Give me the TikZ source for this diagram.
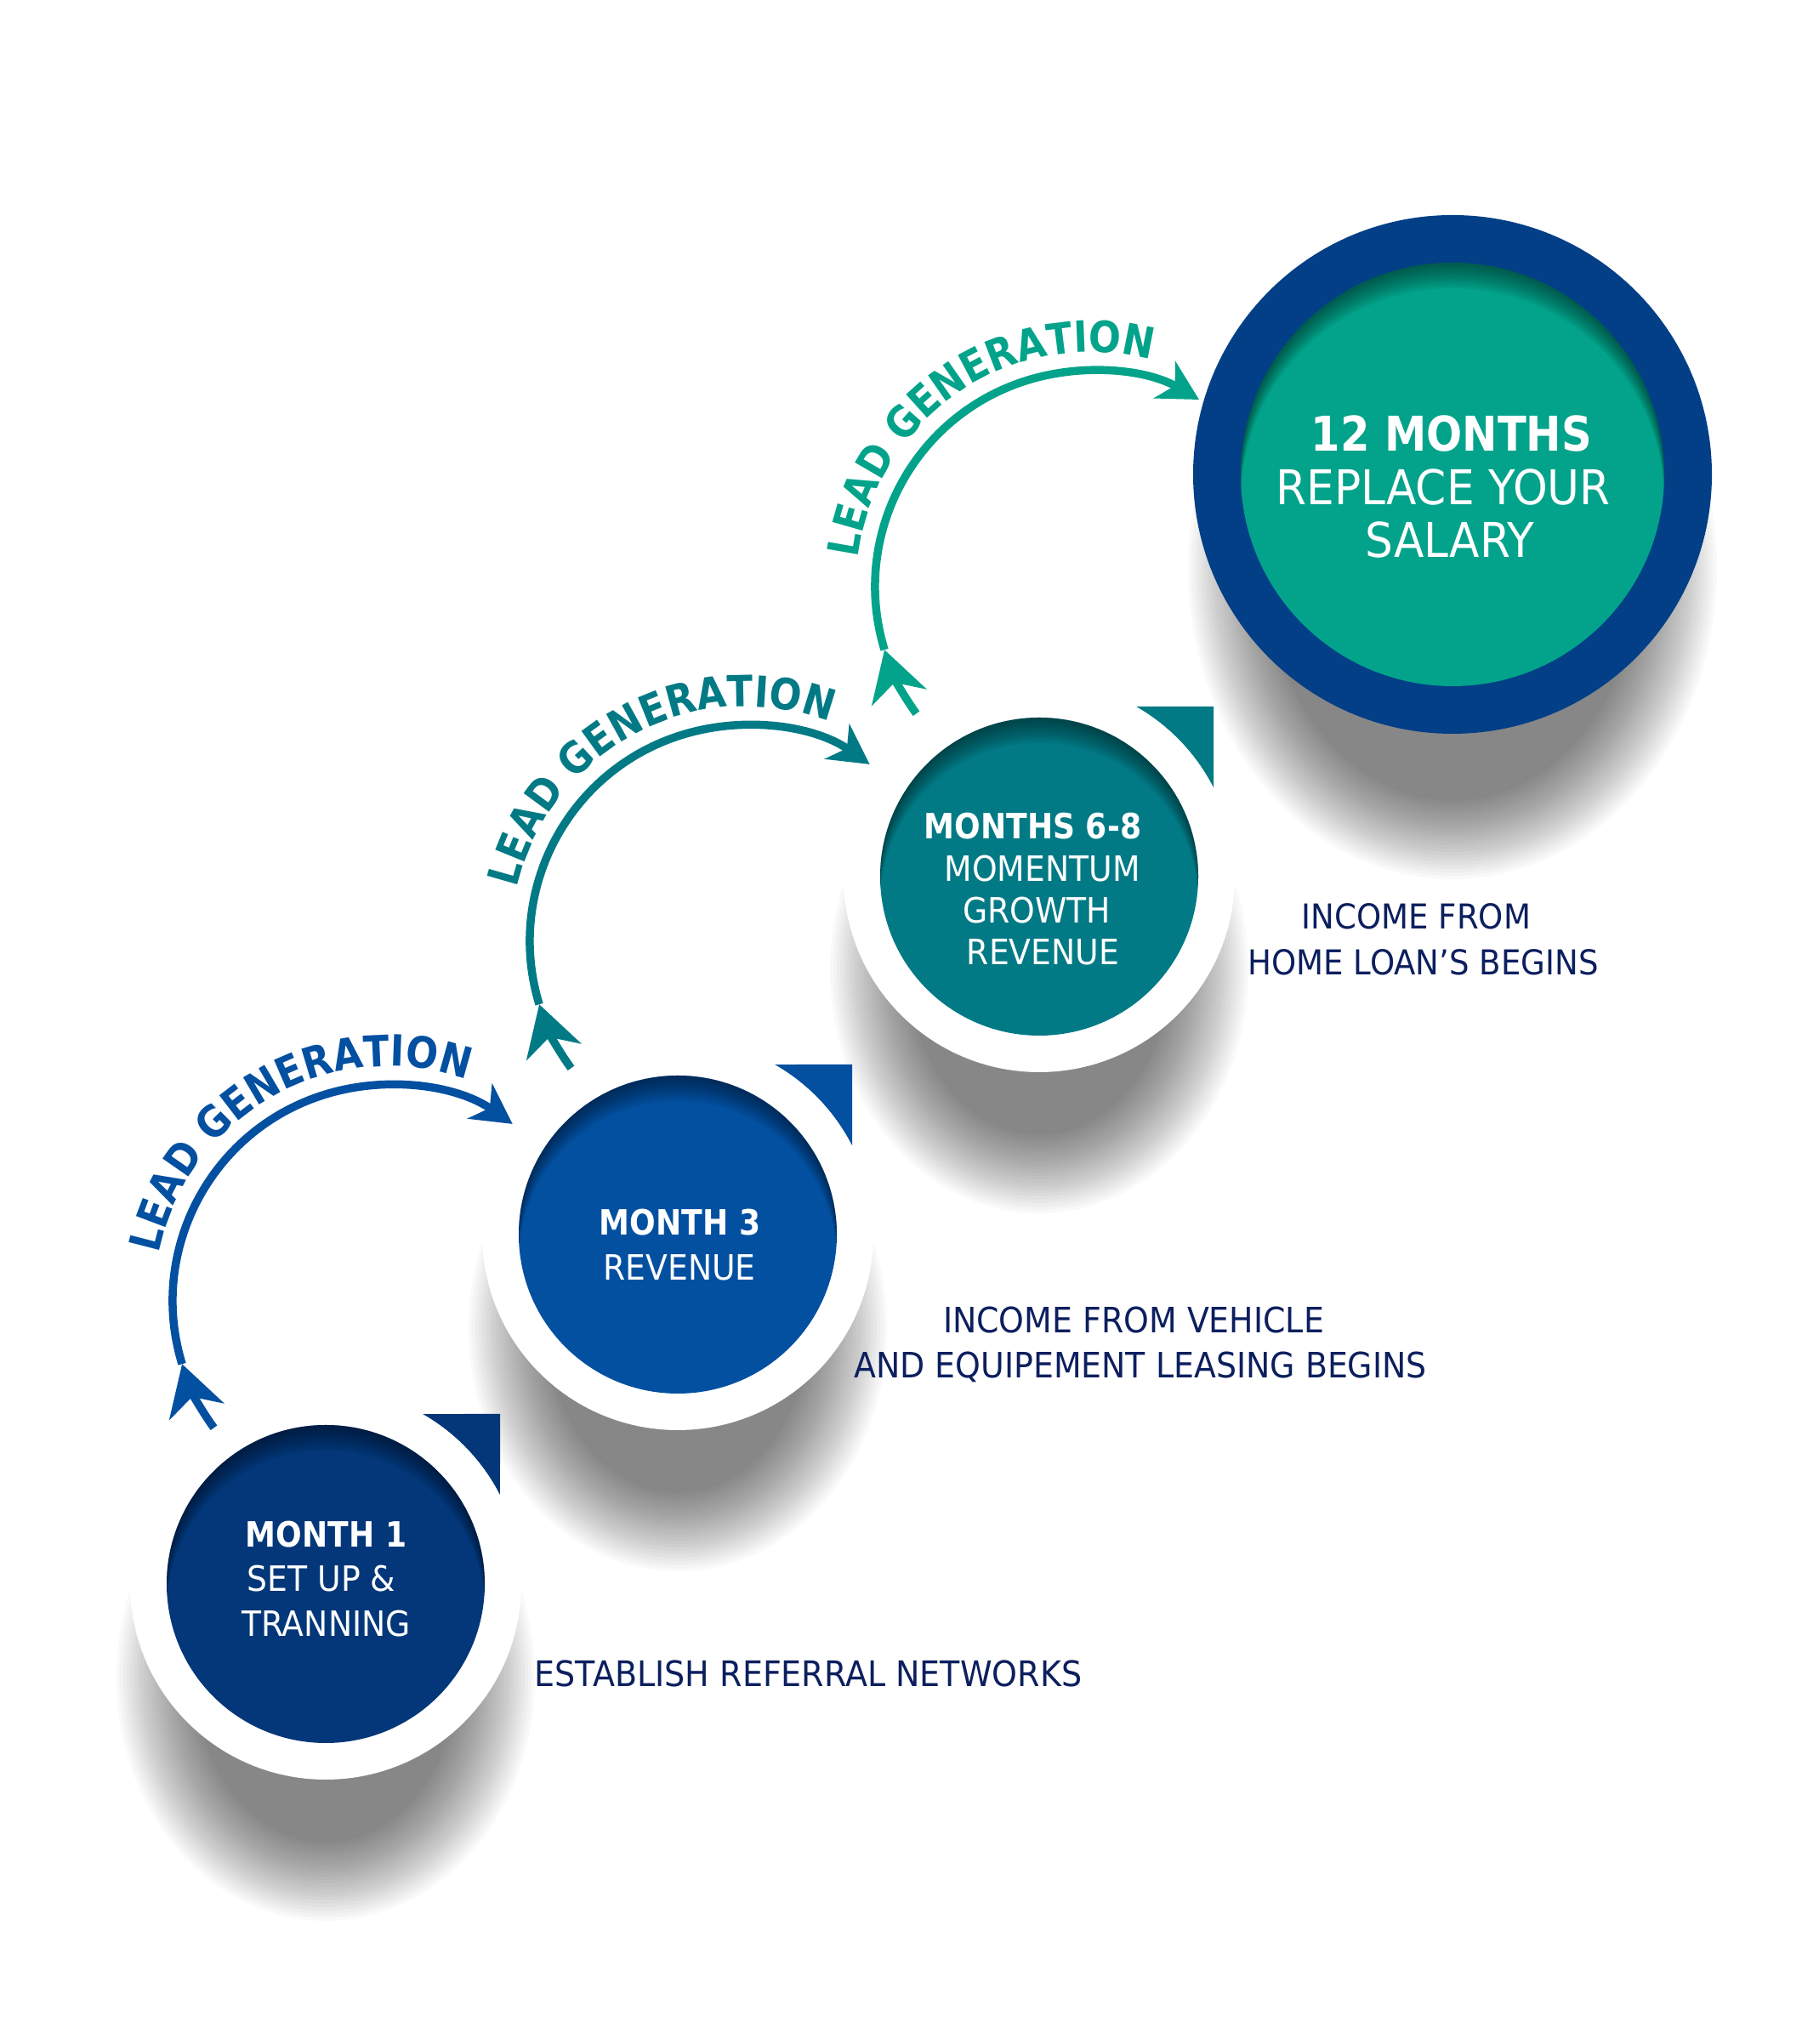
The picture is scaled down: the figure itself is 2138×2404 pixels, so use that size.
\documentclass[tikz,border=0pt]{standalone}
\usepackage{fontspec}
\newfontfamily\rfont{DejaVu Sans}[FakeStretch=0.92]
\newfontfamily\bfont{DejaVu Sans}[FakeStretch=0.88]
\usetikzlibrary{arrows.meta,calc,decorations.text}
\definecolor{cnavy}{HTML}{033779}
\definecolor{cblue}{HTML}{0350A1}
\definecolor{cteal}{HTML}{027A85}
\definecolor{cgreen}{HTML}{02A38A}
\definecolor{cring}{HTML}{023F87}
\definecolor{ctext}{HTML}{0C1F5E}
\newcommand\myreg[1]{\rfont\fontsize{#1pt}{#1pt}\selectfont}
\newcommand\mybold[1]{\bfont\bfseries\fontsize{#1pt}{#1pt}\selectfont}
\newcommand\myshadow[3]{%
  \foreach \i in {0,...,23}{%
    \fill[black,opacity=0.022] ($(#1)+(0,-110)$) ellipse [x radius={#2+46-4*\i}, y radius={#3+46-4*\i}];}}
\newcommand\myinset[2]{%
  \begin{scope}
    \clip (#1) circle (#2);
    \foreach \d in {3,6,...,30}{%
      \fill[black,opacity=0.05,even odd rule] (#1) circle ({#2+20}) ($(#1)+(0,-\d)$) circle (#2);}
  \end{scope}}
\newcommand\mycorner[2]{%
  \fill[#2] ($(#1)+(60.4:230)$) -- ($(#1)+(205,200)$) -- ($(#1)+(26.97:230)$)
    arc[start angle=26.97, end angle=60.4, radius=230] -- cycle;}
\newcommand\myloop[5]{% center, color, end angle, text start, text end
  \draw[lg, draw=#2, -{Stealth[length=17.5pt,width=20pt,inset=5.4pt]}]
    ($(#1)+(216:254)$) arc[start angle=216, end angle=197, radius=254];
  \draw[lg, draw=#2, -{Stealth[length=14pt,width=15pt,inset=4.2pt]}]
    ($(#1)+(197:254)$) arc[start angle=197, end angle=#3, radius=254];
  \path[decorate, decoration={text along path, text align=center,
      text={|\mybold{15.2}\color{#2}|LEAD GENERATION}}]
    ($(#1)+(#4:276)$) arc[start angle=#4, end angle=#5, radius=276];}
\begin{document}
\begin{tikzpicture}[x=0.3pt,y=0.3pt,
  lg/.style={line width=2.85pt},
  ctxt/.style={text=white, inner sep=0pt, anchor=base},
  stxt/.style={text=ctext, inner sep=0pt, anchor=base}]
\useasboundingbox (0,0) rectangle (2138,2404);
\fill[white] (0,0) rectangle (2138,2404);

\coordinate (C1) at (383,541);
\coordinate (C2) at (797,952);
\coordinate (C3) at (1222,1373);
\coordinate (C4) at (1708,1846);
\coordinate (A1) at (457,874);
\coordinate (A2) at (877,1297);
\coordinate (A3) at (1283,1714);

% drop shadows
\myshadow{C1}{200}{240}
\myshadow{C2}{200}{240}
\myshadow{C3}{200}{240}
\myshadow{C4}{265}{320}

% corner marks
\mycorner{C1}{cnavy}
\mycorner{C2}{cblue}
\mycorner{C3}{cteal}

% circles
\fill[white] (C1) circle (230);
\fill[white] (C2) circle (230);
\fill[white] (C3) circle (230);
\fill[cring] (C4) circle (305);
\fill[cnavy] (C1) circle (187);
\fill[cblue] (C2) circle (187);
\fill[cteal] (C3) circle (187);
\fill[cgreen] (C4) circle (249);
\myinset{C1}{187}
\myinset{C2}{187}
\myinset{C3}{187}
\myinset{C4}{249}

% loops
\myloop{A1}{cblue}{55}{180}{59}
\myloop{A2}{cteal}{55}{178}{58}
\myloop{A3}{cgreen}{60}{184}{64}

% circle texts
\node[ctxt, font={\mybold{12.3}}] (t1a) at (383.5,584) {MONTH 1};
\node[ctxt, font={\myreg{12.3}}] (t1b) at (378,532) {SET UP \&};
\node[ctxt, font={\myreg{12.3}}] (t1c) at (383.5,479) {TRANNING};

\node[ctxt, font={\mybold{12.3}}] (t2a) at (799.5,951) {MONTH 3};
\node[ctxt, font={\myreg{12.3}}] (t2b) at (799,898) {REVENUE};

\node[ctxt, font={\mybold{12.3}}] (t3a) at (1214.5,1417) {MONTHS 6-8};
\node[ctxt, font={\myreg{12.3}}] (t3b) at (1225.5,1367) {MOMENTUM};
\node[ctxt, font={\myreg{12.3}}] (t3c) at (1219,1318) {GROWTH};
\node[ctxt, font={\myreg{12.3}}] (t3d) at (1226.5,1269) {REVENUE};

\node[ctxt, font={\mybold{16.9}}] (t4a) at (1707,1873) {12 MONTHS};
\node[ctxt, font={\myreg{16.9}}] (t4b) at (1697,1810) {REPLACE YOUR};
\node[ctxt, font={\myreg{16.9}}] (t4c) at (1705,1748) {SALARY};

% side texts
\node[stxt, font={\myreg{12.4}}] (s1) at (950.5,420) {ESTABLISH REFERRAL NETWORKS};
\node[stxt, font={\myreg{12.35}}] (s2a) at (1333,836.5) {INCOME FROM VEHICLE};
\node[stxt, font={\myreg{12.35}}] (s2b) at (1341,783) {AND EQUIPEMENT LEASING BEGINS};
\node[stxt, font={\myreg{12.1}}] (s3a) at (1665.5,1311) {INCOME FROM};
\node[stxt, font={\myreg{12.1}}] (s3b) at (1673.5,1257) {HOME LOAN’S BEGINS};
\end{tikzpicture}
\end{document}
